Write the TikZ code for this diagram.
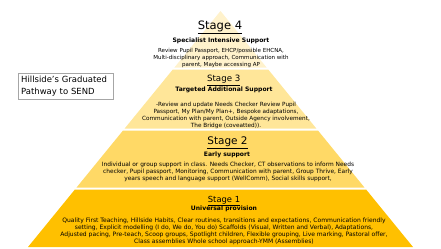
\documentclass[tikz,border=0pt]{standalone}
\usepackage{fontspec}
\setmainfont{DejaVu Sans}
\usetikzlibrary{positioning}
\definecolor{tierfour}{HTML}{FFF2CC}
\definecolor{tierthree}{HTML}{FFE699}
\definecolor{tiertwo}{HTML}{FFD966}
\definecolor{tierone}{HTML}{FFC000}

\begin{document}
\begin{tikzpicture}[
    x=1bp, y=-1bp,
    every node/.style={inner sep=0pt},
    stagehead/.style={font=\fontsize{#1}{11}\selectfont, anchor=base},
    subhead/.style={font=\fontsize{6.1}{7}\selectfont\bfseries},
    body/.style={font=\fontsize{#1}{7}\selectfont, align=center},
    titlebox/.style={draw=gray!70, align=left, inner sep=3pt, text width=89bp,
        font=\fontsize{8.5}{12}\selectfont, anchor=north west}
]
    \useasboundingbox (0,0) rectangle (441,248);

    % Tiers of the pyramid
    \foreach \ytop/\ybot/\col in {11/67.5/tierfour, 69.5/128.5/tierthree,
        130.5/187.5/tiertwo, 189.5/247/tierone} {
        \pgfmathsetmacro{\wtop}{0.8157*(\ytop-11)}
        \pgfmathsetmacro{\wbot}{0.8157*(\ybot-11)}
        \fill[\col] (220.5-\wtop,\ytop) -- (220.5+\wtop,\ytop)
            -- (220.5+\wbot,\ybot) -- (220.5-\wbot,\ybot) -- cycle;
    }

    % Title
    \node[titlebox] (title) at (18,73) {Hillside's Graduated\\Pathway to SEND};

    % Stage 4
    \node[stagehead=11.6] (stfour) at (220,29.3) {\underline{Stage 4}};
    \node[subhead] (subfour) at (221,41.3) {Specialist Intensive Support};
    \node[body=5.55] (bodyfour) at (221,58) {Review Pupil Passport, EHCP/possible EHCNA,\\
        Multi-disciplinary approach, Communication with\\parent, Maybe accessing AP};

    % Stage 3
    \node[stagehead=8.7] (stthree) at (223.7,81.7) {\underline{Stage 3}};
    \node[subhead] (subthree) at (224,90) {Targeted Additional Support};
    \node[body=5.75] (bodythree) at (226,115) {-Review and update Needs Checker Review Pupil\\
        Passport, My Plan/My Plan+, Bespoke adaptations,\\
        Communication with parent, Outside Agency involvement,\\The Bridge (coveatted)).};

    % Stage 2
    \node[stagehead=10.5] (sttwo) at (227.5,144.3) {\underline{Stage 2}};
    \node[subhead] (subtwo) at (227,155) {Early support};
    \node[body=5.9] (bodytwo) at (228,172) {Individual or group support in class. Needs Checker, CT observations to inform Needs\\
        checker, Pupil passport, Monitoring, Communication with parent, Group Thrive, Early\\
        years speech and language support (WellComm), Social skills support,};

    % Stage 1
    \node[stagehead=8.4] (stone) at (224,202.3) {\underline{Stage 1}};
    \node[subhead] (subone) at (224,209.3) {Universal provision};
    \node[body=6.05] (bodyone) at (224,231) {Quality First Teaching, Hillside Habits, Clear routines, transitions and expectations, Communication friendly\\
        setting, Explicit modelling (I do, We do, You do) Scaffolds (Visual, Written and Verbal), Adaptations,\\
        Adjusted pacing, Pre-teach, Scoop groups, Spotlight children, Flexible grouping, Live marking, Pastoral offer,\\
        Class assemblies Whole school approach-YMM (Assemblies)};
\end{tikzpicture}
\end{document}
